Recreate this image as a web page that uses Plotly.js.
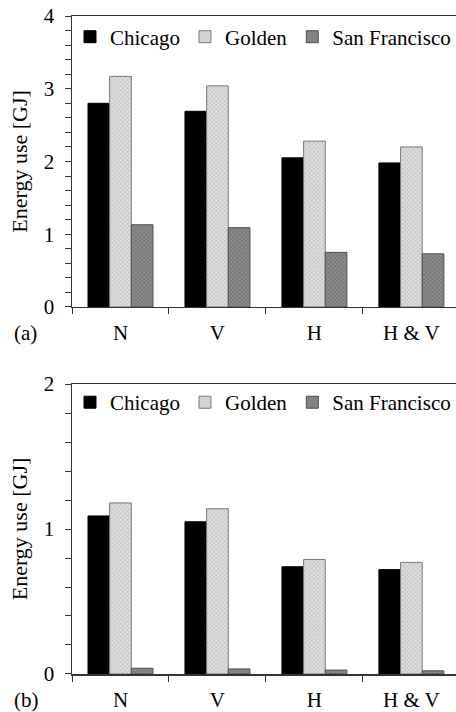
<!DOCTYPE html>
<html>
<head>
<meta charset="utf-8">
<script src="https://cdn.plot.ly/plotly-3.0.1.min.js"></script>
<style>
html,body{margin:0;padding:0;background:#fff;overflow:hidden;}
#chart{width:456px;height:712px;}
</style>
</head>
<body>
<div id="chart"></div>
<script>
const categories = ['N', 'V', 'H', 'H & V'];
const seriesNames = ['Chicago', 'Golden', 'San Francisco'];
// Panel (a)
const topChicago = [2.80, 2.69, 2.05, 1.98];
const topGolden = [3.17, 3.04, 2.28, 2.20];
const topSanFrancisco = [1.13, 1.09, 0.75, 0.73];
// Panel (b)
const bottomChicago = [1.09, 1.05, 0.74, 0.72];
const bottomGolden = [1.18, 1.14, 0.79, 0.77];
const bottomSanFrancisco = [0.04, 0.035, 0.027, 0.022];

const FONT = '"Liberation Serif", "Times New Roman", Times, serif';
const styles = [
  {color: '#000000', line: {color: '#000000', width: 1}},
  {color: '#d6d6d6', line: {color: '#7a7a7a', width: 1},
   pattern: {shape: 'x', size: 3, solidity: 0.25, fgcolor: '#a8a8a8', bgcolor: '#dedede'}},
  {color: '#808080', line: {color: '#505050', width: 1},
   pattern: {shape: 'x', size: 3, solidity: 0.25, fgcolor: '#5a5a5a', bgcolor: '#8c8c8c'}}
];

function mk(vals, i, xa, ya, leg) {
  return {type: 'bar', x: categories, y: vals, name: seriesNames[i],
    xaxis: xa, yaxis: ya, legend: leg, marker: styles[i], hoverinfo: 'skip'};
}
const data = [
  mk(topChicago, 0, 'x', 'y', 'legend'),
  mk(topGolden, 1, 'x', 'y', 'legend'),
  mk(topSanFrancisco, 2, 'x', 'y', 'legend'),
  mk(bottomChicago, 0, 'x2', 'y2', 'legend2'),
  mk(bottomGolden, 1, 'x2', 'y2', 'legend2'),
  mk(bottomSanFrancisco, 2, 'x2', 'y2', 'legend2')
];

function xax(anchor) {
  return {anchor: anchor, domain: [0, 1], range: [-0.5, 3.46], type: 'category',
    showline: true, linecolor: '#333', linewidth: 1.5, mirror: true,
    ticks: 'outside', tickson: 'boundaries', ticklen: 6, tickcolor: '#333', tickwidth: 1,
    tickfont: {family: FONT, size: 21, color: '#000'}, ticklabelstandoff: 6,
    showgrid: false, zeroline: false, fixedrange: true};
}
function yax(anchor, domain, range, dtick) {
  return {anchor: anchor, domain: domain, range: range, dtick: dtick, tick0: 0,
    showline: true, linecolor: '#333', linewidth: 1.5,
    ticks: 'outside', ticklen: 6, tickcolor: '#333', tickwidth: 1,
    minor: {dtick: 0.2, ticks: 'outside', ticklen: 6, tickcolor: '#333', tickwidth: 1, showgrid: false},
    tickfont: {family: FONT, size: 21, color: '#000'}, ticklabelstandoff: 6,
    title: {text: 'Energy use [GJ]', font: {family: FONT, size: 22, color: '#000'}, standoff: 10},
    showgrid: false, zeroline: false, fixedrange: true};
}

const legendCommon = {orientation: 'h', xanchor: 'left', yanchor: 'middle',
  font: {family: FONT, size: 21, color: '#000'}, bgcolor: 'rgba(0,0,0,0)',
  itemclick: false, itemdoubleclick: false, traceorder: 'normal'};

const layout = {
  width: 456, height: 712,
  margin: {l: 72, r: 0, t: 16, b: 38},
  paper_bgcolor: '#fff', plot_bgcolor: '#fff',
  barmode: 'group', bargap: 0.33, bargroupgap: 0,
  font: {family: FONT, color: '#000'},
  showlegend: true,
  xaxis: xax('y'),
  yaxis: yax('x', [0.5578, 1], [0, 4], 1),
  xaxis2: xax('y2'),
  yaxis2: yax('x2', [0, 0.4407], [0, 2], 1),
  legend: Object.assign({x: 0.0, y: 0.968}, legendCommon),
  legend2: Object.assign({x: 0.0, y: 0.4125}, legendCommon),
  annotations: [
    {text: '(a)', xref: 'paper', yref: 'paper', x: -0.155, y: 0.518, xanchor: 'left', yanchor: 'middle',
     showarrow: false, font: {family: FONT, size: 21, color: '#000'}},
    {text: '(b)', xref: 'paper', yref: 'paper', x: -0.155, y: -0.0395, xanchor: 'left', yanchor: 'middle',
     showarrow: false, font: {family: FONT, size: 21, color: '#000'}}
  ]
};

Plotly.newPlot('chart', data, layout, {displayModeBar: false, staticPlot: true});
</script>
</body>
</html>
